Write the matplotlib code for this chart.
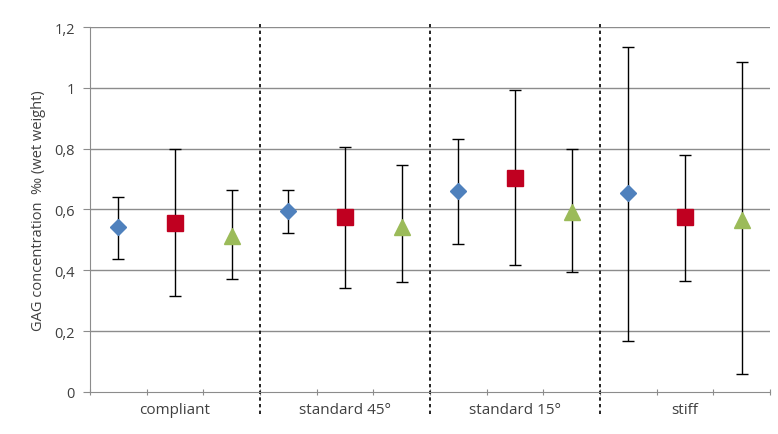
import numpy as np
import matplotlib.pyplot as plt
from matplotlib.ticker import FixedLocator, FuncFormatter

# categories and series values
groups = ["compliant", "standard 45°", "standard 15°", "stiff"]

blue_mean = [0.544, 0.596, 0.662, 0.654]
blue_low = [0.437, 0.523, 0.487, 0.166]
blue_high = [0.640, 0.665, 0.832, 1.134]

red_mean = [0.555, 0.575, 0.704, 0.575]
red_low = [0.317, 0.341, 0.419, 0.366]
red_high = [0.800, 0.807, 0.994, 0.780]

green_mean = [0.514, 0.542, 0.591, 0.566]
green_low = [0.372, 0.361, 0.394, 0.059]
green_high = [0.665, 0.747, 0.800, 1.085]

yticks = [0, 0.2, 0.4, 0.6, 0.8, 1.0, 1.2]

plt.rcParams['font.family'] = ['Open Sans', 'DejaVu Sans']

fig = plt.figure(figsize=(7.78, 4.35), dpi=100)
ax = fig.add_axes([0.1157, 0.0966, 0.874, 0.839])

series = [
    (blue_mean, blue_low, blue_high, 'D', '#4F81BD', 8),
    (red_mean, red_low, red_high, 's', '#C00020', 11),
    (green_mean, green_low, green_high, '^', '#9BBB59', 12),
]

for i, (m, lo, hi, mk, col, ms) in enumerate(series):
    m = np.array(m)
    x = np.arange(len(m)) * 3 + i + 0.5
    err = [m - np.array(lo), np.array(hi) - m]
    ax.errorbar(x, m, yerr=err, fmt='none', ecolor='black', elinewidth=1,
                capsize=4, capthick=1, zorder=3)
    ax.plot(x, m, linestyle='none', marker=mk, color=col, markersize=ms,
            markeredgecolor=col, zorder=4)

ax.set_xlim(0, 12)
ax.set_ylim(0, 1.2)

# horizontal gridlines
for y in yticks[1:]:
    ax.axhline(y, color='#8c8c8c', lw=1, zorder=1)

# dashed group dividers
for xd in [3, 6, 9]:
    ax.plot([xd, xd], [-0.06, 1.015], color='black', lw=1.2,
            linestyle=(0, (2, 2)), transform=ax.get_xaxis_transform(),
            clip_on=False, zorder=2)

ax.yaxis.set_major_locator(FixedLocator(yticks))
ax.yaxis.set_major_formatter(FuncFormatter(lambda v, p: ('%g' % v).replace('.', ',')))
ax.set_xticks(np.arange(0, 13))
ax.set_xticklabels([])
ax.set_xticks([1.5, 4.5, 7.5, 10.5], minor=True)
ax.set_xticklabels(groups, minor=True)
ax.tick_params(axis='x', which='minor', length=0, pad=7, labelsize=11, labelcolor='#404040')
ax.tick_params(axis='x', which='major', length=4, direction='inout', color='#8c8c8c')
ax.tick_params(axis='y', length=5, color='#8c8c8c', labelsize=10.5, labelcolor='#404040', pad=6)

for s in ['top', 'right']:
    ax.spines[s].set_visible(False)
ax.spines['left'].set_color('#8c8c8c')
ax.spines['bottom'].set_color('#8c8c8c')

ax.set_ylabel('GAG concentration  ‰ (wet weight)', fontsize=10.5, color='#404040', labelpad=6)

fig.savefig('out.png', dpi=100)
